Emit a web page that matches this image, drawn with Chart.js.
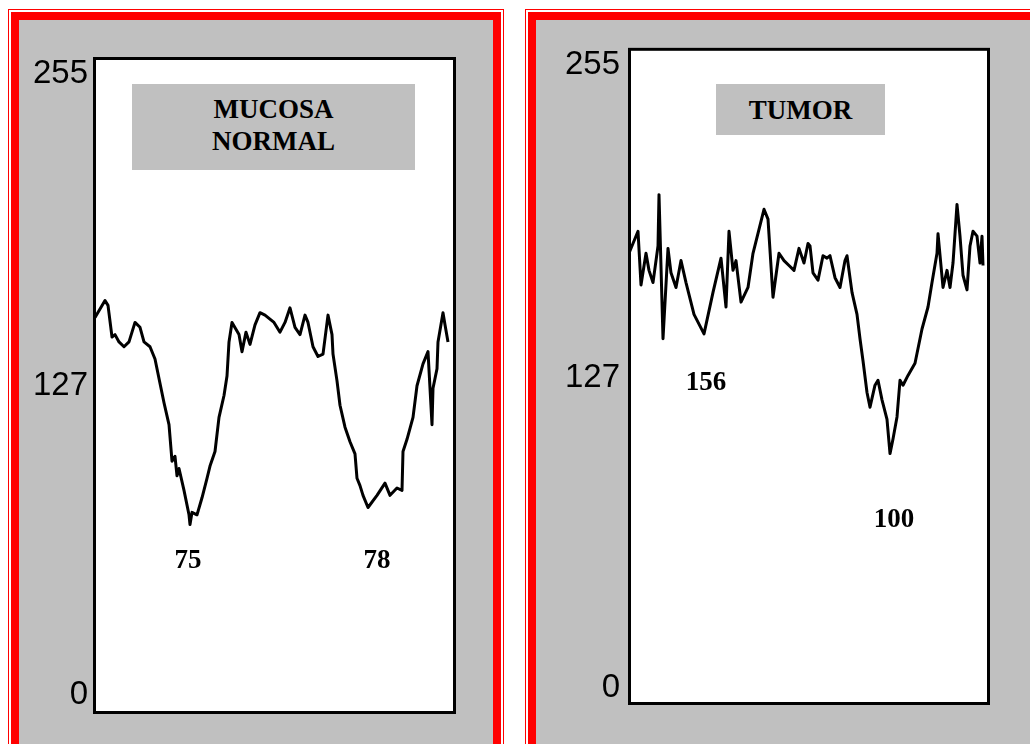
<!DOCTYPE html>
<html>
<head>
<meta charset="utf-8">
<script src="https://cdn.jsdelivr.net/npm/chart.js@4.4.0/dist/chart.umd.min.js"></script>
<style>
    body {
        margin: 0;
        width: 1030px;
        height: 744px;
        overflow: hidden;
        position: relative;
        background: #ffffff;
    }
    .panel {
        position: absolute;
        top: 9px;
        height: 800px;
        border: 1px solid #ff0000;
        padding: 2px;
        background: #ffffff;
        box-sizing: border-box;
    }
    .panel-inner {
        width: 100%;
        height: 100%;
        border: 8px solid #ff0000;
        background: #c0c0c0;
        box-sizing: border-box;
    }
    #panel-left { left: 8px; width: 496px; }
    #panel-right { left: 525px; width: 600px; }
    .chart-box {
        position: absolute;
        top: 20px;
        height: 724px;
    }
    #box-left { left: 19px; width: 473px; }
    #box-right { left: 536px; width: 494px; }
    .title-box {
        position: absolute;
        top: 84px;
        box-sizing: border-box;
        background: #c0c0c0;
        color: #000000;
        font-family: "Liberation Serif", "Times New Roman", serif;
        font-weight: bold;
        font-size: 27px;
        line-height: 32px;
        text-align: center;
        display: flex;
        align-items: center;
        justify-content: center;
    }
    #title-left { left: 132px; width: 283px; height: 86px; padding-bottom: 4px; }
    #title-right { left: 716px; width: 169px; height: 51px; }
</style>
</head>
<body>
<div class="panel" id="panel-left"><div class="panel-inner"></div></div>
<div class="panel" id="panel-right"><div class="panel-inner"></div></div>
<div class="chart-box" id="box-left"><canvas id="chart-mucosa"></canvas></div>
<div class="chart-box" id="box-right"><canvas id="chart-tumor"></canvas></div>
<div class="title-box" id="title-left">MUCOSA<br>NORMAL</div>
<div class="title-box" id="title-right">TUMOR</div>
<script>
// Grey level profiles: position along the scan line and grey value (0-255)
const mucosaPos = [2, 12, 15, 19, 22, 26, 31, 36, 42, 47, 51, 57, 62, 66, 71, 76, 79, 82, 84, 86,
    91, 96, 97, 99, 104, 109, 114, 117, 122, 126, 131, 134, 136, 139, 146, 149, 153, 157, 162, 167,
    172, 181, 187, 192, 197, 202, 207, 212, 215, 220, 225, 230, 235, 239, 240, 244, 247, 252, 257, 262,
    264, 267, 270, 275, 284, 292, 297, 304, 309, 310, 314, 320, 324, 330, 335, 339, 340, 344, 345, 350,
    352, 355];
const mucosaVals = [155, 162, 160, 147, 148, 145, 143, 145, 153, 151, 145, 143, 138, 130, 120, 111, 96, 98, 90, 93,
    84, 74, 70, 75, 74, 81, 89, 94, 100, 114, 123, 131, 145, 153, 148, 141, 149, 144, 152, 157,
    156, 153, 149, 153, 159, 151, 148, 156, 153, 143, 139, 140, 156, 148, 140, 129, 119, 110, 104, 99,
    89, 86, 82, 77, 82, 87, 82, 85, 84, 100, 105, 114, 127, 136, 141, 111, 126, 134, 145, 157,
    152, 145];

const tumorPos = [1, 10, 13, 18, 21, 25, 30, 31, 35, 40, 43, 48, 53, 58, 66, 76, 85, 93, 98, 101,
    105, 108, 113, 120, 125, 136, 140, 145, 151, 156, 161, 166, 171, 176, 180, 182, 185, 190, 195, 199,
    202, 207, 212, 217, 219, 224, 229, 232, 235, 239, 242, 247, 250, 254, 259, 262, 265, 269, 272, 275,
    280, 287, 294, 300, 304, 309, 310, 315, 319, 322, 325, 329, 332, 335, 339, 342, 345, 349, 352, 354,
    355];
const tumorVals = [178, 187, 165, 178, 171, 166, 181, 202, 143, 180, 170, 164, 175, 166, 153, 145, 162, 176, 156, 187,
    171, 175, 158, 164, 178, 196, 192, 160, 178, 175, 173, 171, 180, 174, 182, 181, 170, 167, 177, 176,
    177, 168, 164, 175, 177, 162, 153, 143, 134, 121, 115, 124, 126, 118, 110, 96, 102, 111, 126, 124,
    128, 133, 147, 156, 166, 178, 186, 164, 171, 164, 174, 198, 185, 169, 163, 181, 187, 185, 174, 185,
    173];

const yTicks = [0, 127, 255];

// Numbers written under the valleys (text, position, grey value)
const mucosaNotes = ['75', '78'];
const mucosaNotePos = [95, 284];
const mucosaNoteVals = [55, 55];
const tumorNotes = ['156', '100'];
const tumorNotePos = [78, 266];
const tumorNoteVals = [125, 69];

// White plot area, black frame and the valley numbers
const framePlugin = {
    id: 'profileFrame',
    beforeDraw(chart) {
        const { ctx, chartArea } = chart;
        ctx.save();
        ctx.fillStyle = '#ffffff';
        ctx.fillRect(chartArea.left, chartArea.top, chartArea.width, chartArea.height);
        ctx.restore();
    },
    afterDatasetsDraw(chart, args, opts) {
        const { ctx, chartArea, scales } = chart;
        ctx.save();
        ctx.strokeStyle = '#000000';
        ctx.lineWidth = 3;
        ctx.strokeRect(chartArea.left + 1.5, chartArea.top + 1.5, chartArea.width - 3, chartArea.height - 3);

        // Valley numbers
        ctx.fillStyle = '#000000';
        ctx.font = 'bold 27px "Liberation Serif", "Times New Roman", serif';
        ctx.textAlign = 'center';
        ctx.textBaseline = 'middle';
        opts.notes.forEach((text, i) => {
            const x = scales.x.getPixelForValue(opts.notePos[i]);
            const y = scales.y.getPixelForValue(opts.noteVals[i]);
            ctx.fillText(text, x, y);
        });
        ctx.restore();
    }
};

function makeProfileChart(canvasId, cfg) {
    const ctx = document.getElementById(canvasId).getContext('2d');
    return new Chart(ctx, {
        type: 'line',
        data: {
            datasets: [{
                data: cfg.pos.map((p, i) => ({ x: p, y: cfg.vals[i] })),
                borderColor: '#000000',
                borderWidth: 3,
                borderJoinStyle: 'round',
                pointRadius: 0,
                tension: 0,
                fill: false
            }]
        },
        options: {
            responsive: true,
            maintainAspectRatio: false,
            animation: false,
            layout: {
                padding: cfg.padding
            },
            scales: {
                x: {
                    type: 'linear',
                    display: false,
                    min: 0,
                    max: cfg.xMax
                },
                y: {
                    min: cfg.yMin,
                    max: cfg.yMax,
                    afterBuildTicks: axis => {
                        axis.ticks = yTicks.map(v => ({ value: v }));
                    },
                    afterFit: scale => {
                        scale.width = cfg.axisWidth;
                    },
                    grid: {
                        display: false,
                        drawTicks: false
                    },
                    border: {
                        display: false
                    },
                    ticks: {
                        color: '#000000',
                        padding: cfg.tickPadding,
                        font: {
                            family: '"Liberation Sans", Arial, sans-serif',
                            size: 33
                        }
                    }
                }
            },
            plugins: {
                legend: { display: false },
                tooltip: { enabled: false },
                profileFrame: {
                    notes: cfg.notes,
                    notePos: cfg.notePos,
                    noteVals: cfg.noteVals
                }
            }
        },
        plugins: [framePlugin]
    });
}

makeProfileChart('chart-mucosa', {
    pos: mucosaPos,
    vals: mucosaVals,
    notes: mucosaNotes,
    notePos: mucosaNotePos,
    noteVals: mucosaNoteVals,
    xMax: 363,
    yMin: -7.8,
    yMax: 262,
    axisWidth: 74,
    tickPadding: 5,
    padding: { left: 0, top: 37, right: 36, bottom: 30 }
});

makeProfileChart('chart-tumor', {
    pos: tumorPos,
    vals: tumorVals,
    notes: tumorNotes,
    notePos: tumorNotePos,
    noteVals: tumorNoteVals,
    xMax: 362,
    yMin: -6.9,
    yMax: 262.1,
    axisWidth: 92,
    tickPadding: 8,
    padding: { left: 0, top: 25, right: 40, bottom: 39 }
});
</script>
</body>
</html>
